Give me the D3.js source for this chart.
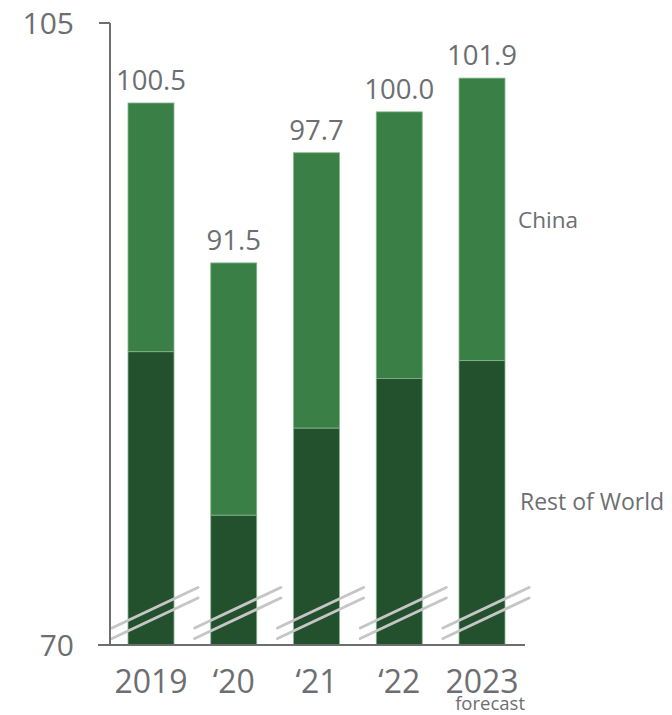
<!DOCTYPE html>
<html>
<head>
<meta charset="utf-8">
<script src="https://cdn.jsdelivr.net/npm/d3@7"></script>
<style>
  html, body { margin: 0; padding: 0; background: #fff; }
  svg { display: block; font-family: "Open Sans", "Noto Sans", sans-serif; }
</style>
</head>
<body>
<svg id="chart" width="672" height="715"></svg>
<script>
// Stacked totals by year: Rest of World at the bottom, China on top
const years = ["2019", "\u201820", "\u201821", "\u201822", "2023"];
const restOfWorld = [86.5, 77.3, 82.2, 85.0, 86.0];
const totals = [100.5, 91.5, 97.7, 100.0, 101.9];
const totalLabels = ["100.5", "91.5", "97.7", "100.0", "101.9"];
const yTickValues = [70, 105];

const textColor = "#6d6e71";
const chinaColor = "#3a8046";
const rowColor = "#23502d";

const svg = d3.select("#chart");

const y = d3.scaleLinear().domain([70, 105]).range([645, 23]);
const x = d3.scalePoint().domain(years).range([151, 482]);
const barW = 46;

// Bars
const g = svg.append("g");
years.forEach((yr, i) => {
  const cx = x(yr);
  g.append("rect")
    .attr("x", cx - barW / 2).attr("width", barW)
    .attr("y", y(totals[i])).attr("height", y(restOfWorld[i]) - y(totals[i]))
    .attr("fill", chinaColor)
    .attr("stroke", "#86b98c").attr("stroke-width", 0.8);
  g.append("rect")
    .attr("x", cx - barW / 2).attr("width", barW)
    .attr("y", y(restOfWorld[i])).attr("height", y(70) - y(restOfWorld[i]))
    .attr("fill", rowColor)
    .attr("stroke", "#86b98c").attr("stroke-width", 0.8);

  // value label
  svg.append("text")
    .attr("x", cx).attr("y", y(totals[i]) - 13)
    .attr("text-anchor", "middle")
    .attr("font-size", 27.5).attr("fill", textColor)
    .text(totalLabels[i]);

  // axis break marks
  const base = y(70);
  [-17, -6.5].forEach(off => {
    svg.append("line")
      .attr("x1", cx - 39).attr("y1", base + off)
      .attr("x2", cx + 47).attr("y2", base + off - 40.5)
      .attr("stroke", "#c6c6c6").attr("stroke-width", 3)
      .attr("stroke-linecap", "round");
  });

  // category label
  svg.append("text")
    .attr("x", cx).attr("y", 693)
    .attr("text-anchor", "middle")
    .attr("font-size", 32).attr("fill", textColor)
    .text(yr);
});

// Axes
const axisColor = "#6d6e71";
svg.append("line")
  .attr("x1", 110).attr("x2", 110).attr("y1", y(105)).attr("y2", y(70))
  .attr("stroke", axisColor).attr("stroke-width", 2);
svg.append("line")
  .attr("x1", 98).attr("x2", 525).attr("y1", y(70)).attr("y2", y(70))
  .attr("stroke", axisColor).attr("stroke-width", 2);
svg.append("line")
  .attr("x1", 99).attr("x2", 110).attr("y1", y(105)).attr("y2", y(105))
  .attr("stroke", axisColor).attr("stroke-width", 2);

yTickValues.forEach(v => {
  svg.append("text")
    .attr("x", 74).attr("y", y(v) + 11)
    .attr("text-anchor", "end")
    .attr("font-size", 30).attr("fill", textColor)
    .text(v);
});

svg.append("text")
  .attr("x", 525).attr("y", 710)
  .attr("text-anchor", "end")
  .attr("font-size", 18.5).attr("fill", textColor)
  .text("forecast");

// Series labels
svg.append("text")
  .attr("x", 518).attr("y", 228)
  .attr("font-size", 22.5).attr("fill", textColor)
  .text("China");
svg.append("text")
  .attr("x", 520).attr("y", 510)
  .attr("font-size", 23).attr("fill", textColor)
  .text("Rest of World");
</script>
</body>
</html>
